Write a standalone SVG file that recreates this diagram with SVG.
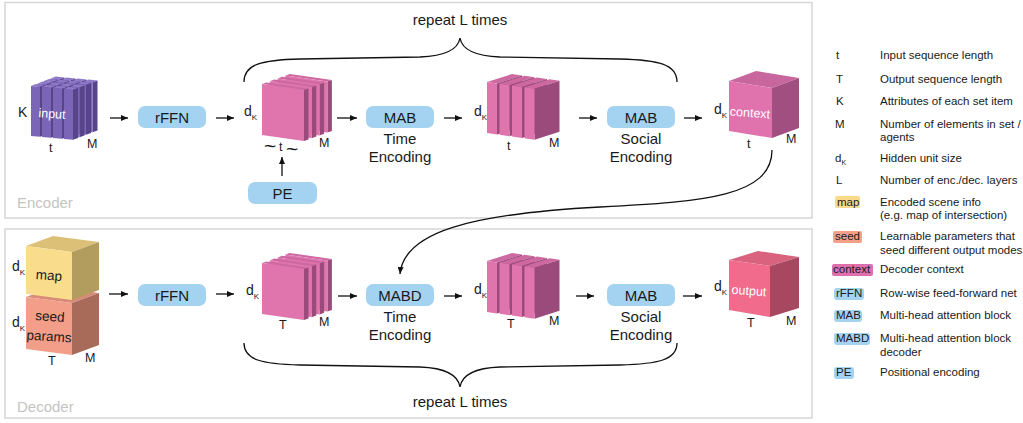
<svg xmlns="http://www.w3.org/2000/svg" xmlns:xlink="http://www.w3.org/1999/xlink" width="1023" height="423" viewBox="0 0 1023 423">
<style>
text{font-family:"Liberation Sans",Arial,sans-serif;fill:#1a1a1a}
.frame{fill:none;stroke:#d6d6d6;stroke-width:1.5}
.sect{font-size:15px;fill:#c4c4c4}
.box{fill:#a3d3f0}
.bt{font-size:15px;text-anchor:middle}
.cap{font-size:15px;text-anchor:middle}
.ax{font-size:12.5px}
.dk{font-size:14px}
.sub{font-size:8px}
.conn{fill:none;stroke:#111;stroke-width:1.3}
.brace{fill:none;stroke:#111;stroke-width:1.3}
.pf{fill:#e075ad}.pt{fill:#cd69a0}.pr{fill:#9b4b7b}
.uf{fill:#7b65b6}.ut{fill:#8e79c9}.ur{fill:#574489}
.lg{font-size:11.5px}
.wt{fill:#fff;font-size:12.5px;text-anchor:middle}
.wave{font-size:21px}
</style>
<defs>
<marker id="ah" markerUnits="userSpaceOnUse" markerWidth="8" markerHeight="6" refX="7" refY="3" orient="auto">
<path d="M0,0 L7,3 L0,6 z" fill="#111"/>
</marker>
<g id="slabA">
<polygon class="pt" points="0,0 42,6 46.5,4.4 4.5,-1.6"/>
<polygon class="pr" points="42,6 46.5,4.4 46.5,55.4 42,57"/>
<polygon class="pf" points="0,0 42,6 42,57 0,51"/>
</g>
<g id="slabB">
<polygon class="pt" points="0,0 10,1.4 35,-6.6 25,-8"/>
<polygon class="pr" points="10,1.4 35,-6.6 35,44.4 10,52.4"/>
<polygon class="pf" points="0,0 10,1.4 10,52.4 0,51"/>
</g>
<g id="pillar">
<polygon class="ut" points="0,0 9,0.8 14,-1.1 5,-1.9"/>
<polygon class="ur" points="9,0.8 14,-1.1 14,48.9 9,50.8"/>
<polygon class="uf" points="0,0 9,0.8 9,50.8 0,50"/>
</g>
</defs>

<g id="frames">
<rect class="frame" x="5" y="2.5" width="807" height="215.5"/>
<text class="sect" x="17" y="208">Encoder</text>
<rect class="frame" x="5" y="229" width="807" height="189"/>
<text class="sect" x="17" y="412">Decoder</text>
</g>

<g id="input">
<use href="#pillar" x="50.5" y="78.5"/><use href="#pillar" x="61.5" y="79.5"/><use href="#pillar" x="72.5" y="80.5"/><use href="#pillar" x="83.5" y="81.5"/>
<use href="#pillar" x="44" y="81"/><use href="#pillar" x="55" y="82"/><use href="#pillar" x="66" y="83"/><use href="#pillar" x="77" y="84"/>
<use href="#pillar" x="37.5" y="83.5"/><use href="#pillar" x="48.5" y="84.5"/><use href="#pillar" x="59.5" y="85.5"/><use href="#pillar" x="70.5" y="86.5"/>
<use href="#pillar" x="31" y="86"/><use href="#pillar" x="42" y="87"/><use href="#pillar" x="53" y="88"/><use href="#pillar" x="64" y="89"/>
<text class="wt" x="52" y="118" transform="rotate(4 52 114)">input</text>
<text class="dk" x="18" y="117">K</text>
<text class="ax" x="49" y="152">t</text>
<text class="ax" x="87" y="148">M</text>
</g>

<g id="rffn-enc">
<rect class="box" x="138" y="106" width="68" height="22" rx="7"/>
<text class="bt" x="172" y="122.5">rFFN</text>
</g>

<g id="enc-stack1">
<use href="#slabA" x="285.4" y="75.6"/><use href="#slabA" x="277.6" y="78.4"/><use href="#slabA" x="269.8" y="81.2"/><use href="#slabA" x="262" y="84"/>
<text class="dk" x="244" y="116">d<tspan class="sub" dy="4">K</tspan></text>
<text class="wave" x="264" y="153">~</text>
<text class="ax" x="279" y="151">t</text>
<text class="wave" x="286" y="156">~</text>
<text class="ax" x="319" y="147">M</text>
</g>

<g id="pe">
<rect class="box" x="248" y="182" width="69" height="22" rx="7"/>
<text class="bt" x="282.5" y="198.5">PE</text>
</g>

<g id="mab-time">
<rect class="box" x="366" y="106" width="68" height="22" rx="7"/>
<text class="bt" x="400" y="122.5">MAB</text>
<text class="cap" x="400" y="144">Time</text>
<text class="cap" x="400" y="162">Encoding</text>
</g>

<g id="enc-stack2">
<use href="#slabB" x="487" y="82"/><use href="#slabB" x="499.5" y="83.75"/><use href="#slabB" x="512" y="85.5"/><use href="#slabB" x="524.5" y="87.25"/>
<text class="dk" x="474" y="116">d<tspan class="sub" dy="4">K</tspan></text>
<text class="ax" x="507" y="150">t</text>
<text class="ax" x="549" y="147">M</text>
</g>

<g id="mab-social">
<rect class="box" x="607" y="106" width="68" height="22" rx="7"/>
<text class="bt" x="641" y="122.5">MAB</text>
<text class="cap" x="641" y="144">Social</text>
<text class="cap" x="641" y="162">Encoding</text>
</g>

<g id="context">
<polygon fill="#c8679e" points="729,81 772,88 799,78 756,71"/>
<polygon fill="#a14f80" points="772,88 799,78 799,128 772,138"/>
<polygon fill="#e073ad" points="729,81 772,88 772,138 729,131"/>
<text class="wt" x="750" y="117" transform="rotate(4 750 113)">context</text>
<text class="dk" x="714" y="114">d<tspan class="sub" dy="4">K</tspan></text>
<text class="ax" x="747" y="148">t</text>
<text class="ax" x="786" y="143">M</text>
</g>

<g id="map-seed">
<polygon fill="#d98b79" points="26,297 72,303 99,293 53,287"/>
<polygon fill="#a86b5a" points="72,303 99,293 99,345 72,355"/>
<polygon fill="#f39e88" points="26,297 72,303 72,355 26,349"/>
<polygon fill="#dcc077" points="26,246 72,252 99,242 53,236"/>
<polygon fill="#b29c5e" points="72,252 99,242 99,290 72,300"/>
<polygon fill="#f9dd8c" points="26,246 72,252 72,300 26,294"/>
<text x="49" y="280" font-size="13.5" text-anchor="middle" fill="#333" transform="rotate(4 49 276)">map</text>
<text x="50" y="321" font-size="13.5" text-anchor="middle" fill="#333" transform="rotate(4 50 317)">seed</text>
<text x="49" y="341" font-size="13.5" text-anchor="middle" fill="#333" transform="rotate(4 49 337)">params</text>
<text class="dk" x="12" y="271">d<tspan class="sub" dy="4">K</tspan></text>
<text class="dk" x="12" y="327">d<tspan class="sub" dy="4">K</tspan></text>
<text class="ax" x="48" y="365">T</text>
<text class="ax" x="85" y="362">M</text>
</g>

<g id="rffn-dec">
<rect class="box" x="138" y="284" width="68" height="22" rx="7"/>
<text class="bt" x="172" y="300.5">rFFN</text>
</g>

<g id="dec-stack1">
<use href="#slabA" x="285.4" y="254.6"/><use href="#slabA" x="277.6" y="257.4"/><use href="#slabA" x="269.8" y="260.2"/><use href="#slabA" x="262" y="263"/>
<text class="dk" x="246" y="295">d<tspan class="sub" dy="4">K</tspan></text>
<text class="ax" x="279" y="329">T</text>
<text class="ax" x="319" y="326">M</text>
</g>

<g id="mabd-time">
<rect class="box" x="366" y="284" width="68" height="22" rx="7"/>
<text class="bt" x="400" y="300.5">MABD</text>
<text class="cap" x="400" y="322">Time</text>
<text class="cap" x="400" y="340">Encoding</text>
</g>

<g id="dec-stack2">
<use href="#slabB" x="487" y="261"/><use href="#slabB" x="499.5" y="262.75"/><use href="#slabB" x="512" y="264.5"/><use href="#slabB" x="524.5" y="266.25"/>
<text class="dk" x="474" y="294">d<tspan class="sub" dy="4">K</tspan></text>
<text class="ax" x="507" y="328">T</text>
<text class="ax" x="549" y="325">M</text>
</g>

<g id="mab-social-dec">
<rect class="box" x="607" y="284" width="68" height="22" rx="7"/>
<text class="bt" x="641" y="300.5">MAB</text>
<text class="cap" x="641" y="322">Social</text>
<text class="cap" x="641" y="340">Encoding</text>
</g>

<g id="output">
<polygon fill="#d9627f" points="729,260 770,266 799,257 758,251"/>
<polygon fill="#a84760" points="770,266 799,257 799,308 770,317"/>
<polygon fill="#f06b8c" points="729,260 770,266 770,317 729,310"/>
<text class="wt" x="749" y="295" transform="rotate(4 749 291)">output</text>
<text class="dk" x="714" y="291">d<tspan class="sub" dy="4">K</tspan></text>
<text class="ax" x="747" y="327">T</text>
<text class="ax" x="786" y="325">M</text>
</g>

<g id="repeat-braces">
<path class="brace" d="M244,82 C244,64 262,60 300,59 L420,57 C445,56 458,50 460,38 C462,50 475,56 500,57 L620,59 C658,60 677,64 677,82"/>
<text class="cap" x="460" y="25">repeat L times</text>
<path class="brace" d="M244,343 C244,360 262,364 300,365 L420,367 C445,368 458,374 460,387 C462,374 475,368 500,367 L620,365 C658,364 677,360 677,343"/>
<text class="cap" x="460" y="407">repeat L times</text>
</g>

<g id="connectors">
<path class="conn" marker-end="url(#ah)" d="M110,118 H128"/>
<path class="conn" marker-end="url(#ah)" d="M216,118 H234"/>
<path class="conn" marker-end="url(#ah)" d="M337,118 H357"/>
<path class="conn" marker-end="url(#ah)" d="M444,118 H462"/>
<path class="conn" marker-end="url(#ah)" d="M579,118 H597"/>
<path class="conn" marker-end="url(#ah)" d="M684,118 H702"/>
<path class="conn" marker-end="url(#ah)" d="M282,176 V157"/>
<path class="conn" marker-end="url(#ah)" d="M109,294 H128"/>
<path class="conn" marker-end="url(#ah)" d="M216,294 H234"/>
<path class="conn" marker-end="url(#ah)" d="M338,296 H357"/>
<path class="conn" marker-end="url(#ah)" d="M444,296 H462"/>
<path class="conn" marker-end="url(#ah)" d="M576,296 H594"/>
<path class="conn" marker-end="url(#ah)" d="M683,296 H702"/>
<path class="conn" marker-end="url(#ah)" d="M772,150 C772,196 705,202 600,207 C470,214 404,232 400,274"/>
</g>

<g id="legend">
<text class="lg" x="836" y="59">t</text><text class="lg" x="880" y="59">Input sequence length</text>
<text class="lg" x="836" y="83">T</text><text class="lg" x="880" y="83">Output sequence length</text>
<text class="lg" x="836" y="105">K</text><text class="lg" x="880" y="105">Attributes of each set item</text>
<text class="lg" x="835" y="128">M</text><text class="lg" x="880" y="128">Number of elements in set /</text>
<text class="lg" x="880" y="141">agents</text>
<text class="lg" x="835" y="162">d<tspan font-size="7" dy="3">K</tspan></text><text class="lg" x="880" y="162">Hidden unit size</text>
<text class="lg" x="836" y="184">L</text><text class="lg" x="880" y="184">Number of enc./dec. layers</text>
<rect x="835" y="196" width="25" height="12" rx="2" fill="#fbd98a"/><text class="lg" x="837" y="206">map</text>
<text class="lg" x="880" y="206">Encoded scene info</text><text class="lg" x="880" y="219">(e.g. map of intersection)</text>
<rect x="833" y="231" width="29" height="12" rx="2" fill="#f4a088"/><text class="lg" x="835" y="240">seed</text>
<text class="lg" x="880" y="240">Learnable parameters that</text><text class="lg" x="880" y="254">seed different output modes</text>
<rect x="832" y="264" width="41" height="12" rx="2" fill="#de6fae"/><text class="lg" x="833" y="273">context</text>
<text class="lg" x="880" y="273">Decoder context</text>
<rect x="834" y="288" width="30" height="12" rx="3" fill="#a3d3f0"/><text class="lg" x="836" y="297">rFFN</text>
<text class="lg" x="880" y="297">Row-wise feed-forward net</text>
<rect x="834" y="310" width="28" height="12" rx="3" fill="#a3d3f0"/><text class="lg" x="836" y="319">MAB</text>
<text class="lg" x="880" y="319">Multi-head attention block</text>
<rect x="834" y="333" width="36" height="12" rx="3" fill="#a3d3f0"/><text class="lg" x="836" y="342">MABD</text>
<text class="lg" x="880" y="342">Multi-head attention block</text><text class="lg" x="880" y="356">decoder</text>
<rect x="834" y="367" width="20" height="12" rx="3" fill="#a3d3f0"/><text class="lg" x="836" y="376">PE</text>
<text class="lg" x="880" y="376">Positional encoding</text>
</g>
</svg>
